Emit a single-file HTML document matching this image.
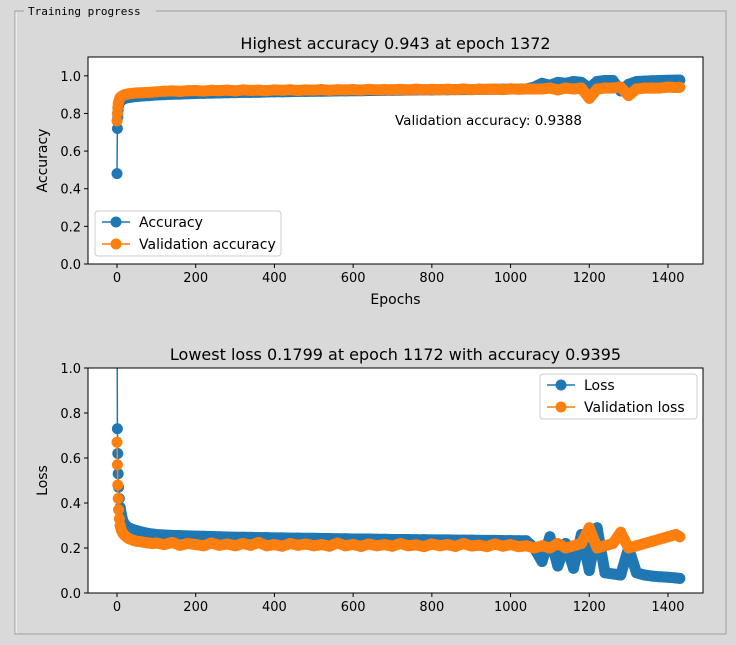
<!DOCTYPE html>
<html><head><meta charset="utf-8">
<style>
html,body{margin:0;padding:0;background:#d9d9d9;}
#wrap{position:relative;width:736px;height:645px;overflow:hidden;}
svg text{font-family:"DejaVu Sans","Liberation Sans",sans-serif;}
</style></head>
<body>
<div id="wrap">
<svg id="svg" width="736" height="645" xmlns="http://www.w3.org/2000/svg">
  <rect x="0" y="0" width="736" height="645" fill="#d9d9d9"/>
  <g>
    <polyline points="24,11 15,11 15,634 726,634 726,11 156,11" fill="none" stroke="#a0a0a0" stroke-width="1"/>
    <polyline points="16,12 16,633" fill="none" stroke="#ffffff" stroke-width="1"/>
  </g>
  <text x="28" y="15" font-size="11" style="font-family:'DejaVu Sans Mono','Liberation Mono',monospace" fill="#000">Training progress</text>
</svg>
</div>
<script>
const epochs=[0,1,2,3,4,6,8,11,15,20,25,30,40,50,60,70,80,90,
100,120,140,160,180,200,220,240,260,280,300,320,340,360,380,400,420,440,460,480,500,520,540,560,580,600,620,640,660,680,700,720,740,760,780,800,820,840,860,880,900,920,940,960,980,1000,1020,1040,
1060,1080,1100,1120,1140,1160,1180,1200,1220,1240,1260,1280,1300,1320,1340,1360,1380,1400,1420,1430];
const accuracy=[0.48,0.72,0.78,0.82,0.84,0.855,0.865,0.87,0.875,0.88,0.883,0.885,0.888,0.89,0.892,0.894,0.895,0.897,
0.898,0.9,0.902,0.903,0.905,0.906,0.907,0.908,0.909,0.91,0.911,0.912,0.912,0.913,0.914,0.915,0.915,0.916,0.917,0.917,0.918,0.918,0.919,0.92,0.92,0.921,0.921,0.922,0.922,0.923,0.923,0.924,0.924,0.925,0.925,0.925,0.926,0.926,0.927,0.927,0.927,0.928,0.928,0.929,0.929,0.93,0.93,0.93,
0.94,0.96,0.95,0.965,0.96,0.97,0.965,0.935,0.97,0.975,0.975,0.92,0.955,0.97,0.972,0.974,0.975,0.976,0.977,0.977];
const valAccuracy=[0.76,0.80,0.83,0.85,0.86,0.875,0.885,0.89,0.895,0.9,0.902,0.905,0.907,0.909,0.91,0.911,0.912,0.913,
0.915,0.918,0.92,0.917,0.921,0.922,0.919,0.923,0.921,0.924,0.92,0.925,0.922,0.924,0.921,0.925,0.923,0.926,0.922,0.925,0.924,0.927,0.923,0.926,0.925,0.927,0.924,0.928,0.925,0.927,0.926,0.928,0.925,0.929,0.926,0.928,0.927,0.929,0.926,0.93,0.927,0.929,0.928,0.93,0.927,0.931,0.929,0.93,
0.93,0.93,0.935,0.925,0.935,0.93,0.935,0.88,0.93,0.935,0.935,0.94,0.895,0.93,0.935,0.935,0.935,0.94,0.938,0.939];
const loss=[1.4,0.73,0.62,0.53,0.47,0.42,0.38,0.35,0.32,0.305,0.295,0.29,0.282,0.277,0.272,0.268,0.265,0.262,
0.26,0.258,0.256,0.255,0.254,0.253,0.252,0.251,0.25,0.249,0.248,0.248,0.247,0.246,0.246,0.245,0.245,0.244,0.244,0.243,0.243,0.242,0.242,0.241,0.241,0.24,0.24,0.24,0.239,0.239,0.238,0.238,0.238,0.237,0.237,0.236,0.236,0.236,0.235,0.235,0.235,0.234,0.234,0.234,0.233,0.233,0.232,0.232,
0.2,0.14,0.25,0.12,0.22,0.11,0.26,0.1,0.29,0.09,0.085,0.08,0.2,0.09,0.08,0.075,0.072,0.07,0.067,0.065];
const valLoss=[0.67,0.57,0.48,0.42,0.37,0.33,0.3,0.28,0.265,0.255,0.248,0.242,0.235,0.23,0.228,0.225,0.222,0.22,
0.222,0.215,0.225,0.212,0.22,0.215,0.21,0.222,0.212,0.218,0.21,0.22,0.212,0.225,0.21,0.215,0.208,0.22,0.212,0.218,0.21,0.215,0.208,0.222,0.21,0.216,0.207,0.218,0.21,0.215,0.208,0.22,0.21,0.214,0.206,0.218,0.21,0.215,0.207,0.22,0.209,0.213,0.206,0.218,0.208,0.215,0.206,0.21,
0.2,0.21,0.2,0.22,0.2,0.21,0.22,0.29,0.2,0.21,0.22,0.27,0.2,0.21,0.22,0.23,0.24,0.25,0.26,0.25];
const xTicks=[0,200,400,600,800,1000,1200,1400];
const yTicks=[0.0,0.2,0.4,0.6,0.8,1.0];

const NS='http://www.w3.org/2000/svg';
const svg=document.getElementById('svg');
function el(tag,attrs,parent){const e=document.createElementNS(NS,tag);for(const k in attrs)e.setAttribute(k,attrs[k]);(parent||svg).appendChild(e);return e;}
const BLUE='#1f77b4',ORANGE='#ff7f0e';

function drawAxes(cfg){
  const L=88,R=703,T=cfg.top,B=cfg.bottom;
  const xs=v=>L+(v-(-73.7))/(1489-(-73.7))*(R-L);
  const ys=v=>B-(v-0)/(cfg.ymax)*(B-T);
  const g=el('g',{});
  
  
  el('rect',{x:L,y:T,width:R-L,height:B-T,fill:'#fff'},g);
  const cp='clip-'+cfg.name;
  const defs=el('defs',{},g);const c=el('clipPath',{id:cp},defs);el('rect',{x:L,y:T,width:R-L,height:B-T},c);
  const plot=el('g',{'clip-path':'url(#'+cp+')'},g);
  cfg.series.forEach(s=>{
    const sg=el('g',{},plot);
    
    
    let d='';
    epochs.forEach((e,i)=>{d+=(i?'L':'M')+xs(e).toFixed(1)+','+ys(s.data[i]).toFixed(1);});
    // dense marker band (markers overlap into a thick band)
    let dBand='';
    epochs.forEach((e,i)=>{if(e>=8)dBand+=(dBand?'L':'M')+xs(e).toFixed(1)+','+ys(s.data[i]).toFixed(1);});
    el('path',{d:dBand,fill:'none',stroke:s.color,'stroke-width':11,'stroke-linejoin':'round','stroke-linecap':'round'},sg);
    el('path',{d:d,fill:'none',stroke:s.color,'stroke-width':1.5},sg);
    epochs.forEach((e,i)=>{
      const m=el('circle',{cx:xs(e),cy:ys(s.data[i]),r:5.5,fill:s.color},sg);
      
      
    });
  });
  el('rect',{x:L,y:T,width:R-L,height:B-T,fill:'none',stroke:'#000','stroke-width':1},g);
  xTicks.forEach(t=>{
    const x=xs(t);
    el('line',{x1:x,x2:x,y1:B,y2:B+4,stroke:'#000'},g);
    const tx=el('text',{x:x,y:B+18,'font-size':13,'text-anchor':'middle'},g);tx.textContent=t;
    
    
  });
  yTicks.forEach(t=>{
    const y=ys(t);
    el('line',{x1:L-4,x2:L,y1:y,y2:y,stroke:'#000'},g);
    const tx=el('text',{x:L-7,y:y+5,'font-size':13,'text-anchor':'end'},g);tx.textContent=t.toFixed(1);
    
    
  });
  const ti=el('text',{x:(L+R)/2,y:T-8,'font-size':16,'text-anchor':'middle'},g);ti.textContent=cfg.title;
  
  
  const yl=el('text',{x:0,y:0,'font-size':14,'text-anchor':'middle',transform:'translate(47,'+((T+B)/2)+') rotate(-90)'},g);yl.textContent=cfg.ylabel;
  
  
  if(cfg.xlabel){const xl=el('text',{x:(L+R)/2,y:B+40,'font-size':14,'text-anchor':'middle'},g);xl.textContent=cfg.xlabel;
    
    }
  const lg=el('g',{},g);
  
  
  const lx=cfg.legend.x,ly=cfg.legend.y;
  el('rect',{x:lx,y:ly,width:cfg.legend.w,height:45,fill:'#fff',stroke:'#ccc',rx:3},lg);
  cfg.series.forEach((s,i)=>{
    const yy=ly+11+i*22;
    el('line',{x1:lx+7,x2:lx+35,y1:yy,y2:yy,stroke:s.color,'stroke-width':1.5},lg);
    el('circle',{cx:lx+21,cy:yy,r:5.5,fill:s.color},lg);
    const t=el('text',{x:lx+44,y:yy+5,'font-size':14},lg);t.textContent=s.label;
    
    
  });
  return g;
}
drawAxes({name:'accuracy-chart',top:57,bottom:264,ymax:1.1,title:'Highest accuracy 0.943 at epoch 1372',ylabel:'Accuracy',xlabel:'Epochs',
  series:[{name:'accuracy-series',label:'Accuracy',color:BLUE,data:accuracy},{name:'val-accuracy-series',label:'Validation accuracy',color:ORANGE,data:valAccuracy}],
  legend:{x:95,y:211,w:186}});
const ann=el('text',{x:395,y:125,'font-size':13.5});
ann.textContent='Validation accuracy: 0.9388';


drawAxes({name:'loss-chart',top:368,bottom:593,ymax:1.0,title:'Lowest loss 0.1799 at epoch 1172 with accuracy 0.9395',ylabel:'Loss',xlabel:'',
  series:[{name:'loss-series',label:'Loss',color:BLUE,data:loss},{name:'val-loss-series',label:'Validation loss',color:ORANGE,data:valLoss}],
  legend:{x:540,y:374,w:157}});
</script>
</body></html>
